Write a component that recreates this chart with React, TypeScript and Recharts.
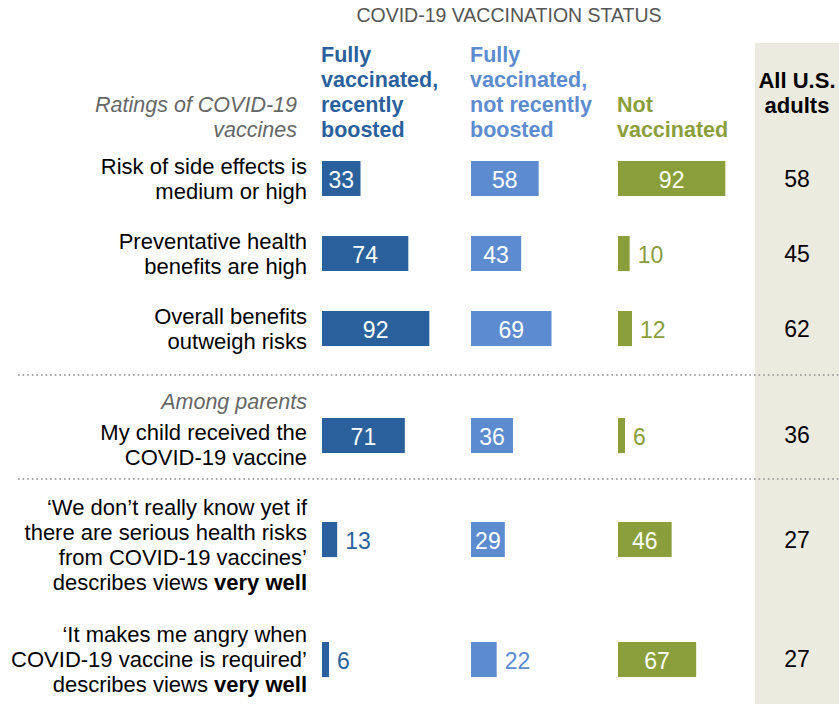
import React from 'react';
import { Bar, BarChart, XAxis, YAxis } from 'recharts';

// data
const ROW_LABELS: string[][] = [
  ['Risk of side effects is', 'medium or high'],
  ['Preventative health', 'benefits are high'],
  ['Overall benefits', 'outweigh risks'],
  ['My child received the', 'COVID-19 vaccine'],
  ['‘We don’t really know yet if', 'there are serious health risks', 'from COVID-19 vaccines’', 'describes views '],
  ['‘It makes me angry when', 'COVID-19 vaccine is required’', 'describes views '],
];
const ROW_EMPHASIS = ['', '', '', '', 'very well', 'very well'];

const BOOSTED = [33, 74, 92, 71, 13, 6];
const NOT_BOOSTED = [58, 43, 69, 36, 29, 22];
const NOT_VACCINATED = [92, 10, 12, 6, 46, 67];
const ALL_ADULTS = [58, 45, 62, 36, 27, 27];

const COLUMN_HEADERS: string[][] = [
  ['Fully', 'vaccinated,', 'recently', 'boosted'],
  ['Fully', 'vaccinated,', 'not recently', 'boosted'],
  ['Not', 'vaccinated'],
];
const ALL_HEADER = ['All U.S.', 'adults'];
const TITLE = 'COVID-19 VACCINATION STATUS';
const SECTION_RATINGS = ['Ratings of COVID-19', 'vaccines'];
const SECTION_PARENTS = 'Among parents';

// layout
const FONT = '"Liberation Sans", Arial, sans-serif';
const COLORS = ['#2a619c', '#5c8bd0', '#8a9e3b'];
const COL_LEFT = [322, 471, 618];
const ROW_CENTERS = [178.5, 253.5, 328.5, 435, 539.5, 659];
const LABEL_SHIFT = [0, 0, 0, 9.5, 5.5, 0];
const BAR_H = 39;
const LINE_H = 25;

const makeLabel = (color: string) => (props: any) => {
  const { x = 0, y = 0, width = 0, height = 0, value } = props;
  const inside = Number(value) >= 25;
  return (
    <text
      x={inside ? x + width / 2 : x + width + 8}
      y={y + height / 2 + 1}
      fill={inside ? '#ffffff' : color}
      textAnchor={inside ? 'middle' : 'start'}
      dominantBaseline="central"
      fontFamily={FONT}
      fontSize={23}
    >
      {value}
    </text>
  );
};

const Cell = ({ value, color }: { value: number; color: string }) => (
  <BarChart
    width={140}
    height={BAR_H}
    data={[{ name: 'v', value }]}
    layout="vertical"
    margin={{ top: 0, right: 0, bottom: 0, left: 0 }}
    barCategoryGap={0}
  >
    <XAxis type="number" domain={[0, 120]} hide />
    <YAxis type="category" dataKey="name" hide />
    <Bar dataKey="value" fill={color} barSize={BAR_H} isAnimationActive={false} label={makeLabel(color)} />
  </BarChart>
);

const Dots = ({ y }: { y: number }) => (
  <svg style={{ position: 'absolute', left: 0, top: y - 2, width: 839, height: 4 }}>
    <line x1={18} x2={839} y1={2} y2={2} stroke="#8c8c8c" strokeWidth={1.6} strokeDasharray="1.6 3" />
  </svg>
);

const App: React.FC = () => {
  const series = [BOOSTED, NOT_BOOSTED, NOT_VACCINATED];
  return (
    <div
      style={{
        position: 'absolute',
        left: 0,
        top: 0,
        width: 839,
        height: 704,
        background: '#ffffff',
        fontFamily: FONT,
        overflow: 'hidden',
      }}
    >
      <div style={{ position: 'absolute', left: 755, top: 43, width: 84, height: 661, background: '#ecebe0' }} />

      <div
        style={{
          position: 'absolute',
          left: 309,
          width: 400,
          top: 2,
          textAlign: 'center',
          fontSize: 19.5,
          lineHeight: '26px',
          color: '#555555',
        }}
      >
        {TITLE}
      </div>

      {COLUMN_HEADERS.map((lines, c) => (
        <div
          key={c}
          style={{
            position: 'absolute',
            left: COL_LEFT[c] - 1,
            top: 142.5 - lines.length * LINE_H,
            fontSize: 21.5,
            fontWeight: 700,
            lineHeight: `${LINE_H}px`,
            color: COLORS[c],
            whiteSpace: 'nowrap',
          }}
        >
          {lines.map((l) => (
            <div key={l}>{l}</div>
          ))}
        </div>
      ))}

      <div
        style={{
          position: 'absolute',
          left: 755,
          width: 84,
          top: 67.5,
          textAlign: 'center',
          fontSize: 22,
          fontWeight: 700,
          lineHeight: `${LINE_H}px`,
          color: '#000000',
        }}
      >
        {ALL_HEADER.map((l) => (
          <div key={l}>{l}</div>
        ))}
      </div>

      <div
        style={{
          position: 'absolute',
          right: 839 - 297,
          top: 93,
          textAlign: 'right',
          fontSize: 21.5,
          fontStyle: 'italic',
          lineHeight: `${LINE_H}px`,
          color: '#666666',
          whiteSpace: 'nowrap',
        }}
      >
        {SECTION_RATINGS.map((l) => (
          <div key={l}>{l}</div>
        ))}
      </div>

      <div
        style={{
          position: 'absolute',
          right: 839 - 307,
          top: 389.5,
          textAlign: 'right',
          fontSize: 21.5,
          fontStyle: 'italic',
          lineHeight: `${LINE_H}px`,
          color: '#666666',
          whiteSpace: 'nowrap',
        }}
      >
        {SECTION_PARENTS}
      </div>

      <Dots y={375} />
      <Dots y={479} />

      {ROW_LABELS.map((lines, r) => {
        const center = ROW_CENTERS[r] + LABEL_SHIFT[r];
        return (
          <div
            key={r}
            style={{
              position: 'absolute',
              right: 839 - 307,
              top: center - (lines.length * LINE_H) / 2,
              textAlign: 'right',
              fontSize: 22,
              lineHeight: `${LINE_H}px`,
              color: '#000000',
              whiteSpace: 'nowrap',
            }}
          >
            {lines.map((l, i) => (
              <div key={i}>
                {l}
                {i === lines.length - 1 && ROW_EMPHASIS[r] ? <b>{ROW_EMPHASIS[r]}</b> : null}
              </div>
            ))}
          </div>
        );
      })}

      {ROW_CENTERS.map((cy, r) => (
        <React.Fragment key={r}>
          {series.map((s, c) => (
            <div key={c} style={{ position: 'absolute', left: COL_LEFT[c], top: cy - BAR_H / 2 }}>
              <Cell value={s[r]} color={COLORS[c]} />
            </div>
          ))}
          <div
            style={{
              position: 'absolute',
              left: 755,
              width: 84,
              top: cy - 15,
              textAlign: 'center',
              fontSize: 23,
              lineHeight: '30px',
              color: '#000000',
            }}
          >
            {ALL_ADULTS[r]}
          </div>
        </React.Fragment>
      ))}
    </div>
  );
};

export default App;
